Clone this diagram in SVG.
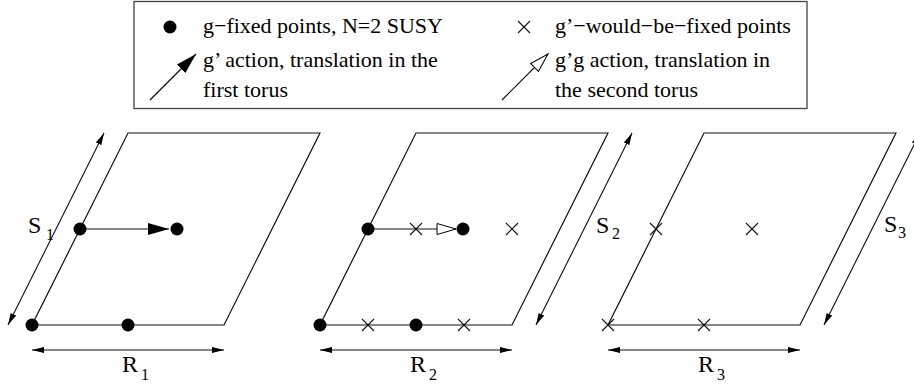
<svg xmlns="http://www.w3.org/2000/svg" xmlns:xlink="http://www.w3.org/1999/xlink" width="914" height="386" viewBox="0 0 914 386">
<style>
  .ln{fill:none;stroke:#111;stroke-width:1.2}
  .box{fill:#fff;stroke:#444;stroke-width:1.3}
  text{font-family:"Liberation Serif","DejaVu Serif",serif;fill:#000}
  .leg{font-size:22px}
  .lab{font-size:24px}
  .sub{font-size:16px}
  .dim{fill:none;stroke:#111;stroke-width:1.1;marker-start:url(#sm);marker-end:url(#sm)}
  .x{fill:none;stroke:#111;stroke-width:1.1}
</style>
<defs>
  <circle id="dot" r="6.5" fill="#000"/>
  <path id="cr" d="M-6,-6 L6,6 M-6,6 L6,-6" class="x"/>
  <marker id="sm" markerUnits="userSpaceOnUse" markerWidth="13" markerHeight="7" refX="12" refY="3" orient="auto-start-reverse">
    <path d="M0,0 L12,3 L0,6 z" fill="#000"/>
  </marker>
  <marker id="big" markerUnits="userSpaceOnUse" markerWidth="22" markerHeight="13" refX="21" refY="6" orient="auto">
    <path d="M0,0 L21,6 L0,12 z" fill="#000"/>
  </marker>
  <marker id="open" markerUnits="userSpaceOnUse" markerWidth="22" markerHeight="14" refX="20" refY="6.5" orient="auto">
    <path d="M1,1 L20,6.5 L1,12 z" fill="#fff" stroke="#000" stroke-width="1"/>
  </marker>
</defs>
<rect width="914" height="386" fill="#fff"/>

<g id="legend">
  <rect class="box" x="134" y="1.5" width="673" height="107"/>
  <use href="#dot" x="170" y="27"/>
  <text class="leg" x="203" y="33">g−fixed points, N=2 SUSY</text>
  <use href="#cr" x="524" y="27"/>
  <text class="leg" x="555" y="33">g’−would−be−fixed points</text>
  <line class="ln" x1="150" y1="100" x2="196" y2="54" marker-end="url(#big)"/>
  <text class="leg" x="203" y="67">g’ action, translation in the</text>
  <text class="leg" x="203" y="97">first torus</text>
  <line class="ln" x1="502" y1="100" x2="548" y2="54" marker-end="url(#open)"/>
  <text class="leg" x="555" y="67">g’g action, translation in</text>
  <text class="leg" x="555" y="97">the second torus</text>
</g>

<g id="connectors">
  <line class="dim" x1="32" y1="350" x2="224" y2="350"/>
  <line class="dim" x1="320" y1="350" x2="512" y2="350"/>
  <line class="dim" x1="608" y1="350" x2="800" y2="350"/>
  <line class="dim" x1="8" y1="325" x2="104" y2="133"/>
  <line class="dim" x1="536" y1="325" x2="632" y2="133"/>
  <line class="dim" x1="824" y1="325" x2="920" y2="133"/>
  <line class="ln" x1="80" y1="229" x2="169" y2="229" marker-end="url(#big)"/>
  <line class="ln" x1="368" y1="229" x2="456" y2="229" marker-end="url(#open)"/>
</g>

<g id="torus1">
  <path class="ln" d="M32,325 L224,325 L320,133 L128,133 Z"/>
  <use href="#dot" x="32" y="325"/>
  <use href="#dot" x="128" y="325"/>
  <use href="#dot" x="80" y="229"/>
  <use href="#dot" x="177" y="229"/>
</g>

<g id="torus2">
  <path class="ln" d="M320,325 L512,325 L608,133 L416,133 Z"/>
  <use href="#dot" x="320" y="325"/>
  <use href="#dot" x="416" y="325"/>
  <use href="#dot" x="368" y="229"/>
  <use href="#dot" x="463" y="229"/>
  <use href="#cr" x="368" y="325"/>
  <use href="#cr" x="464" y="325"/>
  <use href="#cr" x="416" y="229"/>
  <use href="#cr" x="512" y="229"/>
</g>

<g id="torus3">
  <path class="ln" d="M608,325 L800,325 L896,133 L704,133 Z"/>
  <use href="#cr" x="608" y="325"/>
  <use href="#cr" x="704" y="325"/>
  <use href="#cr" x="656" y="229"/>
  <use href="#cr" x="752" y="229"/>
</g>

<g id="labels">
  <text class="lab" x="122" y="372">R</text><text class="sub" x="141" y="380">1</text>
  <text class="lab" x="410" y="372">R</text><text class="sub" x="429" y="380">2</text>
  <text class="lab" x="698" y="372">R</text><text class="sub" x="717" y="380">3</text>
  <text class="lab" x="28" y="233">S</text><text class="sub" x="46" y="240">1</text>
  <text class="lab" x="596" y="233">S</text><text class="sub" x="612" y="239">2</text>
  <text class="lab" x="884" y="232">S</text><text class="sub" x="898" y="238">3</text>
</g>
</svg>
